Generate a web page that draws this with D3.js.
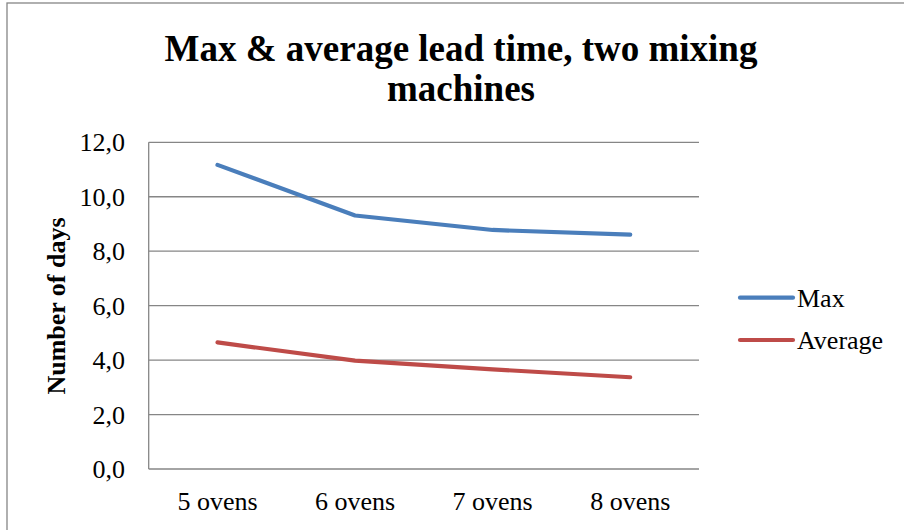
<!DOCTYPE html>
<html><head><meta charset="utf-8">
<script src="https://cdn.jsdelivr.net/npm/d3@7"></script>
<style>body{margin:0;background:#fff}svg{display:block}</style>
</head><body>
<script>
const categories = ["5 ovens","6 ovens","7 ovens","8 ovens"];
const maxValues = [11.17, 9.31, 8.78, 8.61];
const avgValues = [4.65, 3.98, 3.66, 3.37];
const seriesNames = ["Max","Average"];
const seriesColors = ["#4a7ebb","#be4b48"];
const yTicks = [0,2,4,6,8,10,12];
const titleLines = ["Max & average lead time, two mixing","machines"];
const yTitle = "Number of days";

(function(){
const W=904,H=530;
const svg=d3.select("body").append("svg").attr("width",W).attr("height",H);
svg.append("rect").attr("x",7).attr("y",3).attr("width",W+10).attr("height",H+10)
  .attr("fill","#fff").attr("stroke","#868686").attr("stroke-width",1.3);

const pLeft=148.7,pRight=699,pTop=142.3,pBottom=469;
const x=d3.scaleBand().domain(categories).range([pLeft,pRight]);
const y=d3.scaleLinear().domain([0,12]).range([pBottom,pTop]);
const font="'Liberation Serif','Times New Roman',serif";
const fs=26;

svg.append("g").selectAll("line").data(yTicks).join("line")
  .attr("x1",pLeft).attr("x2",pRight).attr("y1",d=>y(d)).attr("y2",d=>y(d))
  .attr("stroke","#868686").attr("stroke-width",1.3);
svg.append("line").attr("x1",pLeft).attr("x2",pLeft).attr("y1",pTop).attr("y2",pBottom)
  .attr("stroke","#868686").attr("stroke-width",1.3);

const yAxis=d3.axisLeft(y).tickValues(yTicks).tickSize(0).tickPadding(0)
  .tickFormat(d=>d3.format(".1f")(d).replace(".",","));
const ga=svg.append("g").attr("transform",`translate(125,0)`).call(yAxis);
ga.select(".domain").remove();
ga.selectAll("text").attr("font-family",font).attr("font-size",fs).attr("fill","#000").attr("dy","0.33em");

const xAxis=d3.axisBottom(x).tickSize(0).tickPadding(0);
const gx=svg.append("g").attr("transform",`translate(0,510)`).call(xAxis);
gx.select(".domain").remove();
gx.selectAll("text").attr("font-family",font).attr("font-size",fs).attr("fill","#000").attr("y",0).attr("dy",0);

const series=[maxValues,avgValues];
const line=d3.line().x((d,i)=>x(categories[i])+x.bandwidth()/2).y(d=>y(d));
series.forEach((s,k)=>{
  svg.append("path").datum(s).attr("d",line).attr("fill","none")
    .attr("stroke",seriesColors[k]).attr("stroke-width",4.2)
    .attr("stroke-linecap","round").attr("stroke-linejoin","round");
});

svg.append("text").attr("text-anchor","middle")
  .attr("font-family",font).attr("font-weight","bold").attr("font-size",37)
  .selectAll("tspan").data(titleLines).join("tspan")
  .attr("x",461).attr("y",(d,i)=>61+i*40).text(d=>d);

svg.append("text").attr("transform","translate(65,306) rotate(-90)")
  .attr("text-anchor","middle").attr("font-family",font).attr("font-weight","bold")
  .attr("font-size",26).text(yTitle);

const ly=[297.7,340];
seriesNames.forEach((n,k)=>{
  svg.append("line").attr("x1",740).attr("x2",793).attr("y1",ly[k]).attr("y2",ly[k])
    .attr("stroke",seriesColors[k]).attr("stroke-width",4.2).attr("stroke-linecap","round");
  svg.append("text").attr("x",797).attr("y",ly[k]).attr("dy","0.35em")
    .attr("font-family",font).attr("font-size",fs).text(n);
});
})();
</script>
</body></html>
